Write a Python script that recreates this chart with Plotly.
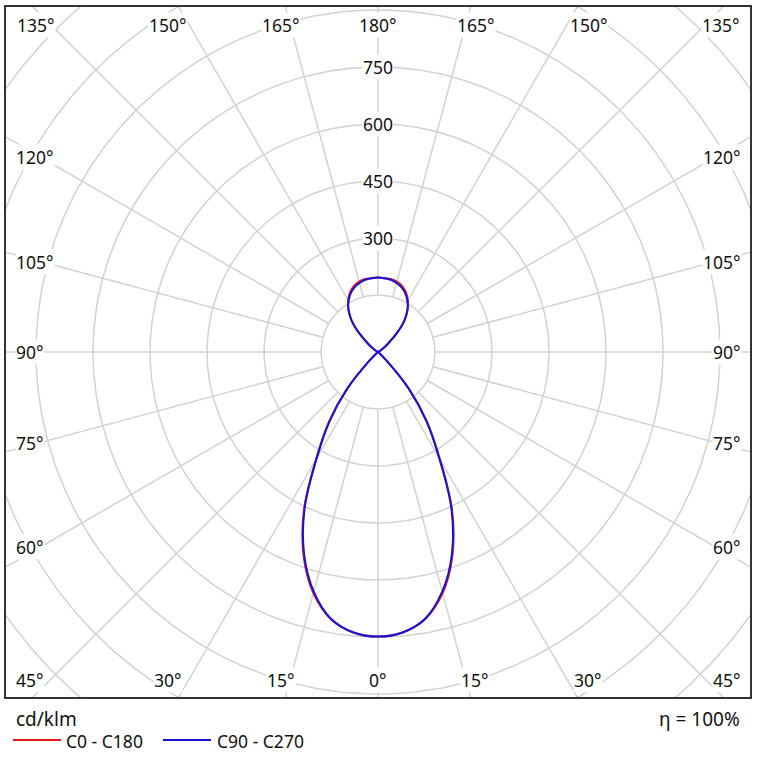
import numpy as np
import plotly.graph_objects as go

# ---- data (cd/klm) ----
gamma = list(range(0, 181, 5))  # degrees, 0 = straight down
I_C0_C180 = [749, 741, 714, 657, 572, 462, 326, 226, 128, 30, 6, 2, 0, 0, 0, 0, 0, 0, 0,
             0, 0, 0, 0, 1, 5, 15, 34, 70, 108, 136, 157, 174, 185, 192, 195, 195, 196]
I_C90_C270 = [749, 741, 713, 653, 568, 458, 322, 222, 125, 30, 6, 2, 0, 0, 0, 0, 0, 0, 0,
              0, 0, 0, 0, 1, 5, 15, 34, 70, 108, 135, 155, 170, 181, 188, 193, 195, 196]
series_names = ["C0 - C180", "C90 - C270"]
series_colors = ["#e81818", "#1414d8"]
ring_values = [150, 300, 450, 600, 750, 900, 1050, 1200, 1350, 1500]
ring_labels = [300, 450, 600, 750]
spoke_angles = list(range(0, 360, 15))
unit_text = "cd/klm"
eta_text = "η = 100%"

# ---- layout geometry ----
W, H = 757, 771
L, R, T, B = 6, 750, 7, 697
CX, CY = 378, 352
S = 0.38  # px per cd/klm

def px2x(px):
    return (px - CX) / S

def py2y(py):
    return (CY - py) / S

def pxp(px):
    return (px - L) / (R - L)

def pyp(py):
    return (B - py) / (B - T)

FONT = "Noto Sans"
GRID = "#d2d2d2"

fig = go.Figure()

# grid rings
t = np.linspace(0, 2 * np.pi, 721)
for rv in ring_values:
    fig.add_trace(go.Scatter(x=rv * np.cos(t), y=rv * np.sin(t), mode="lines",
                             line=dict(color=GRID, width=1.5), hoverinfo="skip",
                             showlegend=False))
# spokes
sx, sy = [], []
for a in spoke_angles:
    ar = np.radians(a)
    sx += [150 * np.sin(ar), 1600 * np.sin(ar), None]
    sy += [-150 * np.cos(ar), -1600 * np.cos(ar), None]
fig.add_trace(go.Scatter(x=sx, y=sy, mode="lines", line=dict(color=GRID, width=1.5),
                         hoverinfo="skip", showlegend=False))

# curves
g = np.radians(np.array(gamma, dtype=float))
for vals, name, col in zip([I_C0_C180, I_C90_C270], series_names, series_colors):
    v = np.array(vals, dtype=float)
    xr = v * np.sin(g)
    yr = -v * np.cos(g)
    x = np.concatenate([xr, -xr[::-1][1:]])
    y = np.concatenate([yr, yr[::-1][1:]])
    fig.add_trace(go.Scatter(x=x, y=y, mode="lines", name=name,
                             line=dict(color=col, width=2, shape="spline", smoothing=1.1),
                             showlegend=False))

ann = []
def lab(text, px, py, anchor="center", size=17.5):
    ann.append(dict(x=px2x(px), y=py2y(py), xref="x", yref="y", text=text, showarrow=False,
                    xanchor=anchor, yanchor="middle", bgcolor="white", borderpad=0,
                    font=dict(family=FONT, size=size, color="#111")))

# angle labels
top = [("135°", 16, "left"), ("150°", 167.5, "center"), ("165°", 280.5, "center"),
       ("180°", 378, "center"), ("165°", 475.5, "center"), ("150°", 588.5, "center"),
       ("135°", 741, "right")]
for txt, px, an in top:
    lab(txt, px, 25, an)
bottom = [("45°", 15, "left"), ("30°", 168, "center"), ("15°", 281, "center"),
          ("0°", 378, "center"), ("15°", 475, "center"), ("30°", 588, "center"),
          ("45°", 742, "right")]
for txt, px, an in bottom:
    lab(txt, px, 680, an)
sides = [("120°", 156.5), ("105°", 261.5), ("90°", 352), ("75°", 443), ("60°", 547)]
for txt, py in sides:
    lab(txt, 15, py, "left")
    lab(txt, 742, py, "right")
for rv in ring_labels:
    lab(str(rv), CX, CY - rv * S, "center")

# bottom texts
ann.append(dict(x=pxp(14), y=pyp(719), xref="paper", yref="paper", text=unit_text,
                showarrow=False, xanchor="left", yanchor="middle",
                font=dict(family=FONT, size=19, color="#111")))
ann.append(dict(x=pxp(742), y=pyp(719), xref="paper", yref="paper", text=eta_text,
                showarrow=False, xanchor="right", yanchor="middle",
                font=dict(family=FONT, size=19, color="#111")))
shapes = []
for (x0, x1, tx), name, col in zip([(13, 61, 64), (163, 211, 215)], series_names, series_colors):
    shapes.append(dict(type="line", xref="paper", yref="paper", x0=pxp(x0), x1=pxp(x1),
                       y0=pyp(740), y1=pyp(740), line=dict(color=col, width=2)))
    ann.append(dict(x=pxp(tx), y=pyp(741), xref="paper", yref="paper", text=name,
                    showarrow=False, xanchor="left", yanchor="middle",
                    font=dict(family=FONT, size=17.5, color="#111")))

fig.update_layout(
    width=W, height=H, margin=dict(l=L, r=W - R, t=T, b=H - B),
    paper_bgcolor="white", plot_bgcolor="white",
    xaxis=dict(range=[px2x(L), px2x(R)], showgrid=False, zeroline=False, showticklabels=False,
               ticks="", showline=True, mirror=True, linecolor="#333", linewidth=1.5, fixedrange=True),
    yaxis=dict(range=[py2y(B), py2y(T)], showgrid=False, zeroline=False, showticklabels=False,
               ticks="", showline=True, mirror=True, linecolor="#333", linewidth=1.5, fixedrange=True),
    annotations=ann, shapes=shapes, showlegend=False,
)
fig.write_html("out.html")
